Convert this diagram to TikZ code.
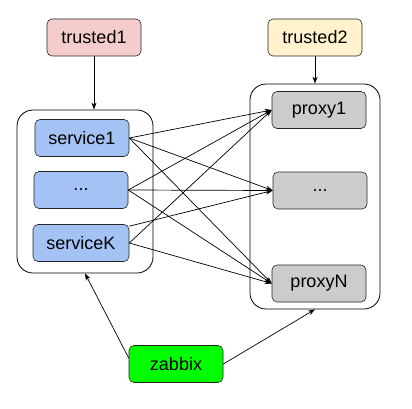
\documentclass[tikz,border=0pt]{standalone}
\usepackage{fontspec}
\setmainfont{Liberation Sans}
\usetikzlibrary{arrows.meta,calc,positioning}

\definecolor{trustedred}{HTML}{F4CCCC}
\definecolor{trustedyellow}{HTML}{FFF2CC}
\definecolor{serviceblue}{HTML}{A4C2F4}
\definecolor{proxygray}{HTML}{CCCCCC}
\definecolor{zabbixgreen}{HTML}{00FF00}

\tikzset{
  box/.style={draw=black!85, line width=0.6pt, rounded corners=5pt,
    minimum width=94pt, minimum height=37pt, inner sep=0pt,
    font=\fontsize{18}{20}\selectfont},
  group/.style={draw, line width=0.8pt, rounded corners=16pt, inner sep=0pt},
  link/.style={line width=0.7pt, -{Stealth[length=7pt,width=5pt]}}
}

\begin{document}
\begin{tikzpicture}[x=1pt,y=1pt]
\useasboundingbox (0,0) rectangle (412,408);

%groups
\node[group, minimum width=136pt, minimum height=163pt] (left) at (85,216.5) {};
\node[group, minimum width=130pt, minimum height=225pt] (right) at (315,211.5) {};

\node[box, fill=trustedred] (trusted1) at (94,370.5) {trusted1};
\node[box, fill=trustedyellow] (trusted2) at (315,370.5) {trusted2};

\node[box, fill=serviceblue] (service1) at (82,270) {service1};
\node[box, fill=serviceblue] (serviceDots) at (81,218) {...};
\node[box, fill=serviceblue, minimum width=96pt] (serviceK) at (81,165) {serviceK};

\node[box, fill=proxygray] (proxy1) at (319,298) {proxy1};
\node[box, fill=proxygray] (proxyDots) at (320,217.5) {...};
\node[box, fill=proxygray] (proxyN) at (319,124.5) {proxyN};

\node[box, fill=zabbixgreen] (zabbix) at (176,44) {zabbix};

%arrows
\draw[link] (trusted1.south) -- (trusted1.south |- left.north);
\draw[link] (trusted2.south) -- (right.north);

\foreach \s in {service1,serviceDots}
  \foreach \p in {proxy1,proxyDots,proxyN}
    \draw[link] (\s.east) -- (\p.west);

\draw[link] ($(serviceK.north east)+(0,-2)$) -- (proxyDots.west);
\draw[link] (serviceK.east) -- (proxy1.west);
\draw[link] (serviceK.east) -- (proxyN.west);

\draw[link] ($(zabbix.west)+(0,6)$) -- (left.south);
\draw[link] (zabbix.east) -- (right.south);

\end{tikzpicture}
\end{document}
